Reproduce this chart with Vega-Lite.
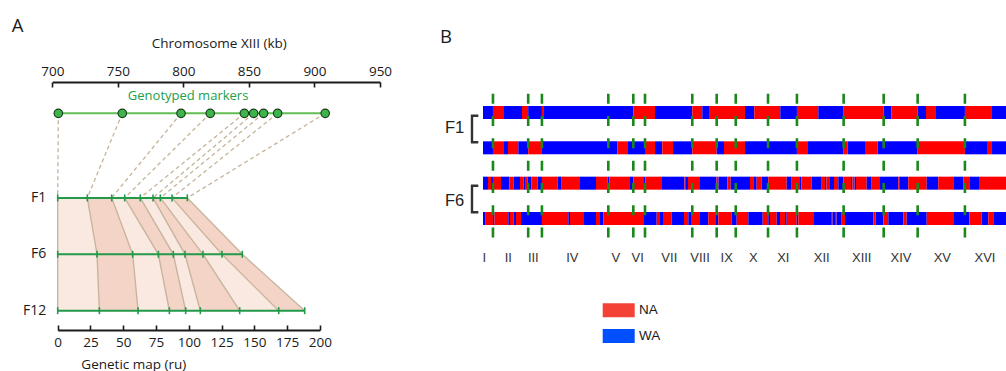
{
  "$schema": "https://vega.github.io/schema/vega-lite/v6.json",
  "width": 1006,
  "height": 371,
  "autosize": {"type": "none"},
  "padding": 0,
  "background": "white",
  "config": {"view": {"stroke": null}, "font": "Open Sans", "axis": {"labelFont": "Open Sans", "titleFont": "Open Sans"}},
  "datasets": {
    "markers": [
      {"kb": 704.6, "f1kb": 704.1}, {"kb": 753.4, "f1kb": 726.7}, {"kb": 798.2, "f1kb": 745.3},
      {"kb": 820.5, "f1kb": 755.2}, {"kb": 846.5, "f1kb": 767.1}, {"kb": 853.6, "f1kb": 776.8},
      {"kb": 861.2, "f1kb": 782.4}, {"kb": 871.9, "f1kb": 791.3}, {"kb": 908.2, "f1kb": 803.0}
    ],
    "fmap": [
      {"gen": "F1", "level": 1.5, "idx": 0, "ru": 0}, {"gen": "F1", "level": 1.5, "idx": 1, "ru": 22.6},
      {"gen": "F1", "level": 1.5, "idx": 2, "ru": 41.2}, {"gen": "F1", "level": 1.5, "idx": 3, "ru": 51.1},
      {"gen": "F1", "level": 1.5, "idx": 4, "ru": 63.0}, {"gen": "F1", "level": 1.5, "idx": 5, "ru": 72.7},
      {"gen": "F1", "level": 1.5, "idx": 6, "ru": 78.3}, {"gen": "F1", "level": 1.5, "idx": 7, "ru": 87.2},
      {"gen": "F1", "level": 1.5, "idx": 8, "ru": 98.9},
      {"gen": "F6", "level": 2.5, "idx": 0, "ru": 0}, {"gen": "F6", "level": 2.5, "idx": 1, "ru": 30.0},
      {"gen": "F6", "level": 2.5, "idx": 2, "ru": 57.2}, {"gen": "F6", "level": 2.5, "idx": 3, "ru": 76.8},
      {"gen": "F6", "level": 2.5, "idx": 4, "ru": 88.2}, {"gen": "F6", "level": 2.5, "idx": 5, "ru": 97.1},
      {"gen": "F6", "level": 2.5, "idx": 6, "ru": 110.8}, {"gen": "F6", "level": 2.5, "idx": 7, "ru": 125.3},
      {"gen": "F6", "level": 2.5, "idx": 8, "ru": 140.8},
      {"gen": "F12", "level": 3.5, "idx": 0, "ru": 0}, {"gen": "F12", "level": 3.5, "idx": 1, "ru": 31.8},
      {"gen": "F12", "level": 3.5, "idx": 2, "ru": 61.3}, {"gen": "F12", "level": 3.5, "idx": 3, "ru": 85.2},
      {"gen": "F12", "level": 3.5, "idx": 4, "ru": 97.6}, {"gen": "F12", "level": 3.5, "idx": 5, "ru": 108.8},
      {"gen": "F12", "level": 3.5, "idx": 6, "ru": 138.8}, {"gen": "F12", "level": 3.5, "idx": 7, "ru": 168.6},
      {"gen": "F12", "level": 3.5, "idx": 8, "ru": 188.4}
    ],
    "bands": [
      {"band": 0, "shade": "light", "level": 1.5, "lo": 0, "hi": 22.6}, {"band": 0, "shade": "light", "level": 2.5, "lo": 0, "hi": 30.0}, {"band": 0, "shade": "light", "level": 3.5, "lo": 0, "hi": 31.8},
      {"band": 1, "shade": "dark", "level": 1.5, "lo": 22.6, "hi": 41.2}, {"band": 1, "shade": "dark", "level": 2.5, "lo": 30.0, "hi": 57.2}, {"band": 1, "shade": "dark", "level": 3.5, "lo": 31.8, "hi": 61.3},
      {"band": 2, "shade": "light", "level": 1.5, "lo": 41.2, "hi": 51.1}, {"band": 2, "shade": "light", "level": 2.5, "lo": 57.2, "hi": 76.8}, {"band": 2, "shade": "light", "level": 3.5, "lo": 61.3, "hi": 85.2},
      {"band": 3, "shade": "dark", "level": 1.5, "lo": 51.1, "hi": 63.0}, {"band": 3, "shade": "dark", "level": 2.5, "lo": 76.8, "hi": 88.2}, {"band": 3, "shade": "dark", "level": 3.5, "lo": 85.2, "hi": 97.6},
      {"band": 4, "shade": "light", "level": 1.5, "lo": 63.0, "hi": 72.7}, {"band": 4, "shade": "light", "level": 2.5, "lo": 88.2, "hi": 97.1}, {"band": 4, "shade": "light", "level": 3.5, "lo": 97.6, "hi": 108.8},
      {"band": 5, "shade": "dark", "level": 1.5, "lo": 72.7, "hi": 78.3}, {"band": 5, "shade": "dark", "level": 2.5, "lo": 97.1, "hi": 110.8}, {"band": 5, "shade": "dark", "level": 3.5, "lo": 108.8, "hi": 138.8},
      {"band": 6, "shade": "light", "level": 1.5, "lo": 78.3, "hi": 87.2}, {"band": 6, "shade": "light", "level": 2.5, "lo": 110.8, "hi": 125.3}, {"band": 6, "shade": "light", "level": 3.5, "lo": 138.8, "hi": 168.6},
      {"band": 7, "shade": "dark", "level": 1.5, "lo": 87.2, "hi": 98.9}, {"band": 7, "shade": "dark", "level": 2.5, "lo": 125.3, "hi": 140.8}, {"band": 7, "shade": "dark", "level": 3.5, "lo": 168.6, "hi": 188.4}
    ],
    "chroms": [
      {"name": "I", "end": 230, "mid": 30}, {"name": "II", "end": 1043, "mid": 584}, {"name": "III", "end": 1360, "mid": 1161},
      {"name": "IV", "end": 2892, "mid": 2061}, {"name": "V", "end": 3469, "mid": 3063}, {"name": "VI", "end": 3739, "mid": 3570},
      {"name": "VII", "end": 4830, "mid": 4300}, {"name": "VIII", "end": 5393, "mid": 5008}, {"name": "IX", "end": 5833, "mid": 5624},
      {"name": "X", "end": 6578, "mid": 6238}, {"name": "XI", "end": 7245, "mid": 6930}, {"name": "XII", "end": 8323, "mid": 7817},
      {"name": "XIII", "end": 9247, "mid": 8740}, {"name": "XIV", "end": 10031, "mid": 9647}, {"name": "XV", "end": 11122, "mid": 10600},
      {"name": "XVI", "end": 12070, "mid": 11585}
    ],
    "haps": [
      {"row": 1, "start": 0, "end": 230, "hap": "WA"}, {"row": 1, "start": 230, "end": 468, "hap": "NA"}, {"row": 1, "start": 468, "end": 900, "hap": "WA"},
      {"row": 1, "start": 900, "end": 1043, "hap": "NA"}, {"row": 1, "start": 1043, "end": 1360, "hap": "WA"}, {"row": 1, "start": 1360, "end": 1408, "hap": "NA"},
      {"row": 1, "start": 1408, "end": 3469, "hap": "WA"}, {"row": 1, "start": 3469, "end": 3969, "hap": "NA"}, {"row": 1, "start": 3969, "end": 4830, "hap": "WA"},
      {"row": 1, "start": 4830, "end": 5061, "hap": "NA"}, {"row": 1, "start": 5061, "end": 5216, "hap": "WA"}, {"row": 1, "start": 5216, "end": 6046, "hap": "NA"},
      {"row": 1, "start": 6046, "end": 6261, "hap": "WA"}, {"row": 1, "start": 6261, "end": 6861, "hap": "NA"}, {"row": 1, "start": 6861, "end": 7245, "hap": "WA"},
      {"row": 1, "start": 7245, "end": 7738, "hap": "NA"}, {"row": 1, "start": 7738, "end": 8323, "hap": "WA"}, {"row": 1, "start": 8323, "end": 9247, "hap": "NA"},
      {"row": 1, "start": 9247, "end": 9423, "hap": "WA"}, {"row": 1, "start": 9423, "end": 10031, "hap": "NA"}, {"row": 1, "start": 10031, "end": 10224, "hap": "WA"},
      {"row": 1, "start": 10224, "end": 10438, "hap": "NA"}, {"row": 1, "start": 10438, "end": 11122, "hap": "WA"}, {"row": 1, "start": 11122, "end": 11731, "hap": "NA"},
      {"row": 1, "start": 11731, "end": 12070, "hap": "WA"},

      {"row": 2, "start": 0, "end": 230, "hap": "WA"}, {"row": 2, "start": 230, "end": 468, "hap": "NA"}, {"row": 2, "start": 468, "end": 577, "hap": "WA"},
      {"row": 2, "start": 577, "end": 815, "hap": "NA"}, {"row": 2, "start": 815, "end": 1043, "hap": "WA"}, {"row": 2, "start": 1043, "end": 1360, "hap": "NA"},
      {"row": 2, "start": 1360, "end": 3099, "hap": "WA"}, {"row": 2, "start": 3099, "end": 3330, "hap": "NA"}, {"row": 2, "start": 3330, "end": 3739, "hap": "WA"},
      {"row": 2, "start": 3739, "end": 3969, "hap": "NA"}, {"row": 2, "start": 3969, "end": 4138, "hap": "WA"}, {"row": 2, "start": 4138, "end": 4385, "hap": "NA"},
      {"row": 2, "start": 4385, "end": 4830, "hap": "WA"}, {"row": 2, "start": 4830, "end": 5393, "hap": "NA"}, {"row": 2, "start": 5393, "end": 5562, "hap": "WA"},
      {"row": 2, "start": 5562, "end": 6046, "hap": "NA"}, {"row": 2, "start": 6046, "end": 7245, "hap": "WA"}, {"row": 2, "start": 7245, "end": 7484, "hap": "NA"},
      {"row": 2, "start": 7484, "end": 8323, "hap": "WA"}, {"row": 2, "start": 8323, "end": 8417, "hap": "NA"}, {"row": 2, "start": 8417, "end": 8816, "hap": "WA"},
      {"row": 2, "start": 8816, "end": 9109, "hap": "NA"}, {"row": 2, "start": 9109, "end": 10031, "hap": "WA"}, {"row": 2, "start": 10031, "end": 11122, "hap": "NA"},
      {"row": 2, "start": 11122, "end": 11631, "hap": "WA"}, {"row": 2, "start": 11631, "end": 11731, "hap": "NA"}, {"row": 2, "start": 11731, "end": 12070, "hap": "WA"},

      {"row": 3, "start": 0, "end": 115, "hap": "WA"}, {"row": 3, "start": 115, "end": 185, "hap": "NA"}, {"row": 3, "start": 185, "end": 230, "hap": "WA"},
      {"row": 3, "start": 230, "end": 415, "hap": "NA"}, {"row": 3, "start": 415, "end": 612, "hap": "WA"}, {"row": 3, "start": 612, "end": 704, "hap": "NA"},
      {"row": 3, "start": 704, "end": 854, "hap": "WA"}, {"row": 3, "start": 854, "end": 935, "hap": "NA"}, {"row": 3, "start": 935, "end": 969, "hap": "WA"},
      {"row": 3, "start": 969, "end": 1027, "hap": "NA"}, {"row": 3, "start": 1027, "end": 1119, "hap": "WA"}, {"row": 3, "start": 1119, "end": 1258, "hap": "NA"},
      {"row": 3, "start": 1258, "end": 1360, "hap": "WA"}, {"row": 3, "start": 1360, "end": 1719, "hap": "NA"}, {"row": 3, "start": 1719, "end": 1816, "hap": "WA"},
      {"row": 3, "start": 1816, "end": 2239, "hap": "NA"}, {"row": 3, "start": 2239, "end": 2608, "hap": "WA"}, {"row": 3, "start": 2608, "end": 2878, "hap": "NA"},
      {"row": 3, "start": 2878, "end": 2915, "hap": "WA"}, {"row": 3, "start": 2915, "end": 3376, "hap": "NA"}, {"row": 3, "start": 3376, "end": 3469, "hap": "WA"},
      {"row": 3, "start": 3469, "end": 3716, "hap": "NA"}, {"row": 3, "start": 3716, "end": 3750, "hap": "WA"}, {"row": 3, "start": 3750, "end": 4131, "hap": "NA"},
      {"row": 3, "start": 4131, "end": 4650, "hap": "WA"}, {"row": 3, "start": 4650, "end": 4685, "hap": "NA"}, {"row": 3, "start": 4685, "end": 4731, "hap": "WA"},
      {"row": 3, "start": 4731, "end": 5008, "hap": "NA"}, {"row": 3, "start": 5008, "end": 5389, "hap": "WA"}, {"row": 3, "start": 5389, "end": 5435, "hap": "NA"},
      {"row": 3, "start": 5435, "end": 5638, "hap": "WA"}, {"row": 3, "start": 5638, "end": 5716, "hap": "NA"}, {"row": 3, "start": 5716, "end": 6162, "hap": "WA"},
      {"row": 3, "start": 6162, "end": 6238, "hap": "NA"}, {"row": 3, "start": 6238, "end": 6316, "hap": "WA"}, {"row": 3, "start": 6316, "end": 6432, "hap": "NA"},
      {"row": 3, "start": 6432, "end": 6584, "hap": "WA"}, {"row": 3, "start": 6584, "end": 7009, "hap": "NA"}, {"row": 3, "start": 7009, "end": 7124, "hap": "WA"},
      {"row": 3, "start": 7124, "end": 7316, "hap": "NA"}, {"row": 3, "start": 7316, "end": 7350, "hap": "WA"}, {"row": 3, "start": 7350, "end": 7586, "hap": "NA"},
      {"row": 3, "start": 7586, "end": 7817, "hap": "WA"}, {"row": 3, "start": 7817, "end": 7893, "hap": "NA"}, {"row": 3, "start": 7893, "end": 7927, "hap": "WA"},
      {"row": 3, "start": 7927, "end": 8008, "hap": "NA"}, {"row": 3, "start": 8008, "end": 8100, "hap": "WA"}, {"row": 3, "start": 8100, "end": 8200, "hap": "NA"},
      {"row": 3, "start": 8200, "end": 8315, "hap": "WA"}, {"row": 3, "start": 8315, "end": 8493, "hap": "NA"}, {"row": 3, "start": 8493, "end": 8527, "hap": "WA"},
      {"row": 3, "start": 8527, "end": 8574, "hap": "NA"}, {"row": 3, "start": 8574, "end": 8608, "hap": "WA"}, {"row": 3, "start": 8608, "end": 8855, "hap": "NA"},
      {"row": 3, "start": 8855, "end": 8970, "hap": "WA"}, {"row": 3, "start": 8970, "end": 9162, "hap": "NA"}, {"row": 3, "start": 9162, "end": 9584, "hap": "WA"},
      {"row": 3, "start": 9584, "end": 9624, "hap": "NA"}, {"row": 3, "start": 9624, "end": 9815, "hap": "WA"}, {"row": 3, "start": 9815, "end": 10240, "hap": "NA"},
      {"row": 3, "start": 10240, "end": 10507, "hap": "WA"}, {"row": 3, "start": 10507, "end": 10854, "hap": "NA"}, {"row": 3, "start": 10854, "end": 11084, "hap": "WA"},
      {"row": 3, "start": 11084, "end": 11223, "hap": "NA"}, {"row": 3, "start": 11223, "end": 11447, "hap": "WA"}, {"row": 3, "start": 11447, "end": 12070, "hap": "NA"},

      {"row": 4, "start": 0, "end": 62, "hap": "WA"}, {"row": 4, "start": 62, "end": 230, "hap": "NA"}, {"row": 4, "start": 230, "end": 265, "hap": "WA"},
      {"row": 4, "start": 265, "end": 584, "hap": "NA"}, {"row": 4, "start": 584, "end": 623, "hap": "WA"}, {"row": 4, "start": 623, "end": 704, "hap": "NA"},
      {"row": 4, "start": 704, "end": 762, "hap": "WA"}, {"row": 4, "start": 762, "end": 877, "hap": "NA"}, {"row": 4, "start": 877, "end": 1360, "hap": "WA"},
      {"row": 4, "start": 1360, "end": 1969, "hap": "NA"}, {"row": 4, "start": 1969, "end": 2008, "hap": "WA"}, {"row": 4, "start": 2008, "end": 2331, "hap": "NA"},
      {"row": 4, "start": 2331, "end": 2608, "hap": "WA"}, {"row": 4, "start": 2608, "end": 2700, "hap": "NA"}, {"row": 4, "start": 2700, "end": 2776, "hap": "WA"},
      {"row": 4, "start": 2776, "end": 3716, "hap": "NA"}, {"row": 4, "start": 3716, "end": 4009, "hap": "WA"}, {"row": 4, "start": 4009, "end": 4085, "hap": "NA"},
      {"row": 4, "start": 4085, "end": 4154, "hap": "WA"}, {"row": 4, "start": 4154, "end": 4355, "hap": "NA"}, {"row": 4, "start": 4355, "end": 4639, "hap": "WA"},
      {"row": 4, "start": 4639, "end": 4738, "hap": "NA"}, {"row": 4, "start": 4738, "end": 4800, "hap": "WA"}, {"row": 4, "start": 4800, "end": 5008, "hap": "NA"},
      {"row": 4, "start": 5008, "end": 5200, "hap": "WA"}, {"row": 4, "start": 5200, "end": 5377, "hap": "NA"}, {"row": 4, "start": 5377, "end": 5430, "hap": "WA"},
      {"row": 4, "start": 5430, "end": 5740, "hap": "NA"}, {"row": 4, "start": 5740, "end": 5855, "hap": "WA"}, {"row": 4, "start": 5855, "end": 6123, "hap": "NA"},
      {"row": 4, "start": 6123, "end": 6455, "hap": "WA"}, {"row": 4, "start": 6455, "end": 6584, "hap": "NA"}, {"row": 4, "start": 6584, "end": 6623, "hap": "WA"},
      {"row": 4, "start": 6623, "end": 6778, "hap": "NA"}, {"row": 4, "start": 6778, "end": 6854, "hap": "WA"}, {"row": 4, "start": 6854, "end": 6970, "hap": "NA"},
      {"row": 4, "start": 6970, "end": 7009, "hap": "WA"}, {"row": 4, "start": 7009, "end": 7240, "hap": "NA"}, {"row": 4, "start": 7240, "end": 7277, "hap": "WA"},
      {"row": 4, "start": 7277, "end": 7639, "hap": "NA"}, {"row": 4, "start": 7639, "end": 8031, "hap": "WA"}, {"row": 4, "start": 8031, "end": 8066, "hap": "NA"},
      {"row": 4, "start": 8066, "end": 8123, "hap": "WA"}, {"row": 4, "start": 8123, "end": 8158, "hap": "NA"}, {"row": 4, "start": 8158, "end": 8278, "hap": "WA"},
      {"row": 4, "start": 8278, "end": 8354, "hap": "NA"}, {"row": 4, "start": 8354, "end": 9007, "hap": "WA"}, {"row": 4, "start": 9007, "end": 9063, "hap": "NA"},
      {"row": 4, "start": 9063, "end": 9238, "hap": "WA"}, {"row": 4, "start": 9238, "end": 9354, "hap": "NA"}, {"row": 4, "start": 9354, "end": 9700, "hap": "WA"},
      {"row": 4, "start": 9700, "end": 9778, "hap": "NA"}, {"row": 4, "start": 9778, "end": 10240, "hap": "WA"}, {"row": 4, "start": 10240, "end": 10870, "hap": "NA"},
      {"row": 4, "start": 10870, "end": 11223, "hap": "WA"}, {"row": 4, "start": 11223, "end": 11509, "hap": "NA"}, {"row": 4, "start": 11509, "end": 11661, "hap": "WA"},
      {"row": 4, "start": 11661, "end": 11777, "hap": "NA"}, {"row": 4, "start": 11777, "end": 12070, "hap": "WA"}
    ],
    "brackets": [
      {"gen": "F1", "ord": 1, "kb": -108, "row": 1.09}, {"gen": "F1", "ord": 2, "kb": -254, "row": 1.09},
      {"gen": "F1", "ord": 3, "kb": -254, "row": 1.84}, {"gen": "F1", "ord": 4, "kb": -108, "row": 1.84},
      {"gen": "F6", "ord": 1, "kb": -108, "row": 3.074}, {"gen": "F6", "ord": 2, "kb": -254, "row": 3.074},
      {"gen": "F6", "ord": 3, "kb": -254, "row": 3.824}, {"gen": "F6", "ord": 4, "kb": -108, "row": 3.824}
    ],
    "glabels": [{"gen": "F1", "row": 1.582}, {"gen": "F6", "row": 3.651}]
  },
  "layer": [
    {
      "layer": [
        {
          "data": {"name": "markers"},
          "mark": {"type": "rule", "color": "#c6b399", "strokeWidth": 1.3, "strokeDash": [4, 3]},
          "encoding": {
            "x": {"field": "kb", "type": "quantitative",
              "scale": {"domain": [700, 950], "range": [52.3, 380], "nice": false, "zero": false},
              "axis": {"orient": "top", "offset": -82, "values": [700, 750, 800, 850, 900, 950],
                "tickSize": -5, "tickWidth": 1.6, "tickColor": "#1a1a1a", "domainColor": "#1a1a1a", "domainWidth": 1.8,
                "labelPadding": 12, "labelBaseline": "alphabetic", "labelFontSize": 13.5, "labelColor": "#1a1a1a",
                "labelFlush": false, "labelOverlap": false, "grid": false,
                "title": "Chromosome XIII (kb)", "titleFontSize": 13.5, "titleFontWeight": "normal", "titleColor": "#1a1a1a",
                "titleX": 218.8, "titleY": -34.7, "titleBaseline": "alphabetic", "titleAlign": "center"}},
            "x2": {"field": "f1kb"},
            "y": {"datum": 0, "type": "quantitative", "scale": {"domain": [0, 3.5], "range": [113.3, 310.7], "nice": false, "zero": false}, "axis": null},
            "y2": {"datum": 1.5}
          }
        },
        {
          "data": {"name": "markers"},
          "mark": {"type": "rule", "color": "#62bd55", "strokeWidth": 2},
          "encoding": {
            "x": {"aggregate": "min", "field": "kb", "type": "quantitative", "scale": {"domain": [700, 950], "range": [52.3, 380], "nice": false, "zero": false}},
            "x2": {"aggregate": "max", "field": "kb"},
            "y": {"datum": 0, "type": "quantitative", "scale": {"domain": [0, 3.5], "range": [113.3, 310.7], "nice": false, "zero": false}, "axis": null}
          }
        },
        {
          "data": {"name": "markers"},
          "mark": {"type": "circle", "size": 72, "fill": "#3db54a", "stroke": "#1c3f1e", "strokeWidth": 1.2, "opacity": 1},
          "encoding": {
            "x": {"field": "kb", "type": "quantitative", "scale": {"domain": [700, 950], "range": [52.3, 380], "nice": false, "zero": false}},
            "y": {"datum": 0, "type": "quantitative", "scale": {"domain": [0, 3.5], "range": [113.3, 310.7], "nice": false, "zero": false}, "axis": null}
          }
        },
        {
          "data": {"values": [{}]},
          "mark": {"type": "text", "text": "Genotyped markers", "fontSize": 13, "color": "#22a04b", "align": "center", "baseline": "alphabetic"},
          "encoding": {
            "x": {"datum": 803.6, "type": "quantitative", "scale": {"domain": [700, 950], "range": [52.3, 380], "nice": false, "zero": false}},
            "y": {"datum": -0.232, "type": "quantitative", "scale": {"domain": [0, 3.5], "range": [113.3, 310.7], "nice": false, "zero": false}, "axis": null}
          }
        },
        {
          "data": {"values": [{}]},
          "mark": {"type": "text", "text": "A", "fontSize": 18.5, "color": "#1a1a1a", "align": "left", "baseline": "alphabetic"},
          "encoding": {
            "x": {"datum": 669, "type": "quantitative", "scale": {"domain": [700, 950], "range": [52.3, 380], "nice": false, "zero": false}},
            "y": {"datum": -1.447, "type": "quantitative", "scale": {"domain": [0, 3.5], "range": [113.3, 310.7], "nice": false, "zero": false}, "axis": null}
          }
        }
      ]
    },
    {
      "layer": [
        {
          "data": {"name": "bands"},
          "mark": {"type": "area", "orient": "horizontal", "opacity": 1},
          "encoding": {
            "x": {"field": "lo", "type": "quantitative", "stack": null,
              "scale": {"domain": [0, 200], "range": [57.7, 319.9], "nice": false, "zero": false},
              "axis": {"orient": "bottom", "offset": -41, "values": [0, 25, 50, 75, 100, 125, 150, 175, 200],
                "tickSize": -5, "tickWidth": 1.6, "tickColor": "#1a1a1a", "domainColor": "#1a1a1a", "domainWidth": 1.8,
                "labelPadding": 21.7, "labelBaseline": "alphabetic", "labelFontSize": 13.5, "labelColor": "#1a1a1a",
                "labelFlush": false, "labelOverlap": false, "grid": false,
                "title": "Genetic map (ru)", "titleFontSize": 13.5, "titleFontWeight": "normal", "titleColor": "#1a1a1a",
                "titleX": 133.3, "titleY": 38, "titleBaseline": "alphabetic", "titleAlign": "center"}},
            "x2": {"field": "hi"},
            "y": {"field": "level", "type": "quantitative", "scale": {"domain": [0, 3.5], "range": [113.3, 310.7], "nice": false, "zero": false}, "axis": null},
            "color": {"field": "shade", "type": "nominal", "scale": {"domain": ["light", "dark"], "range": ["#fae9e0", "#f4d4c7"]}, "legend": null},
            "detail": {"field": "band", "type": "nominal"}
          }
        },
        {
          "data": {"name": "fmap"},
          "mark": {"type": "line", "color": "#c9b59d", "strokeWidth": 1.4},
          "encoding": {
            "x": {"field": "ru", "type": "quantitative", "scale": {"domain": [0, 200], "range": [57.7, 319.9], "nice": false, "zero": false}},
            "y": {"field": "level", "type": "quantitative", "scale": {"domain": [0, 3.5], "range": [113.3, 310.7], "nice": false, "zero": false}, "axis": null},
            "detail": {"field": "idx", "type": "nominal"},
            "order": {"field": "level", "type": "quantitative"}
          }
        },
        {
          "data": {"name": "fmap"},
          "mark": {"type": "rule", "color": "#23994a", "strokeWidth": 2},
          "encoding": {
            "x": {"aggregate": "min", "field": "ru", "type": "quantitative", "scale": {"domain": [0, 200], "range": [57.7, 319.9], "nice": false, "zero": false}},
            "x2": {"aggregate": "max", "field": "ru"},
            "y": {"field": "level", "type": "quantitative", "scale": {"domain": [0, 3.5], "range": [113.3, 310.7], "nice": false, "zero": false}, "axis": null}
          }
        },
        {
          "data": {"name": "fmap"},
          "mark": {"type": "tick", "orient": "vertical", "size": 7, "thickness": 1.6, "color": "#23994a", "opacity": 1},
          "encoding": {
            "x": {"field": "ru", "type": "quantitative", "scale": {"domain": [0, 200], "range": [57.7, 319.9], "nice": false, "zero": false}},
            "y": {"field": "level", "type": "quantitative", "scale": {"domain": [0, 3.5], "range": [113.3, 310.7], "nice": false, "zero": false}, "axis": null}
          }
        },
        {
          "data": {"name": "fmap"},
          "transform": [{"filter": "datum.idx == 0"}],
          "mark": {"type": "text", "fontSize": 14, "color": "#1a1a1a", "align": "right", "baseline": "middle"},
          "encoding": {
            "x": {"datum": -8.7, "type": "quantitative", "scale": {"domain": [0, 200], "range": [57.7, 319.9], "nice": false, "zero": false}},
            "y": {"field": "level", "type": "quantitative", "scale": {"domain": [0, 3.5], "range": [113.3, 310.7], "nice": false, "zero": false}, "axis": null},
            "text": {"field": "gen"}
          }
        }
      ]
    },
    {
      "layer": [
        {
          "data": {"name": "haps"},
          "mark": {"type": "bar", "orient": "horizontal", "size": 13},
          "encoding": {
            "x": {"field": "start", "type": "quantitative", "stack": null, "scale": {"domain": [0, 12070], "range": [483, 1006], "nice": false, "zero": false}, "axis": null},
            "x2": {"field": "end"},
            "y": {"field": "row", "type": "quantitative", "scale": {"domain": [1, 4], "range": [107.5, 223.5], "nice": false, "zero": false}, "axis": null},
            "color": {"field": "hap", "type": "nominal", "scale": {"domain": ["NA", "WA"], "range": ["#ff0000", "#0000ff"]}, "legend": null}
          }
        },
        {
          "data": {"name": "chroms"},
          "transform": [{"filter": "datum.end < 12070"}],
          "mark": {"type": "rule", "color": "#1a881a", "strokeWidth": 2.6, "strokeDash": [10, 12.3]},
          "encoding": {
            "x": {"field": "end", "type": "quantitative", "scale": {"domain": [0, 12070], "range": [483, 1006], "nice": false, "zero": false}},
            "y": {"datum": 0.47, "type": "quantitative", "scale": {"domain": [1, 4], "range": [107.5, 223.5], "nice": false, "zero": false}, "axis": null},
            "y2": {"datum": 4.814}
          }
        },
        {
          "data": {"name": "chroms"},
          "mark": {"type": "text", "font": "Liberation Sans", "fontSize": 13, "color": "#333333", "align": "center", "baseline": "alphabetic"},
          "encoding": {
            "x": {"field": "mid", "type": "quantitative", "scale": {"domain": [0, 12070], "range": [483, 1006], "nice": false, "zero": false}},
            "y": {"datum": 5.23, "type": "quantitative", "scale": {"domain": [1, 4], "range": [107.5, 223.5], "nice": false, "zero": false}, "axis": null},
            "text": {"field": "name"}
          }
        },
        {
          "data": {"name": "glabels"},
          "mark": {"type": "text", "font": "Liberation Sans", "fontSize": 16.5, "color": "#222222", "align": "left", "baseline": "alphabetic"},
          "encoding": {
            "x": {"datum": -877, "type": "quantitative", "scale": {"domain": [0, 12070], "range": [483, 1006], "nice": false, "zero": false}},
            "y": {"field": "row", "type": "quantitative", "scale": {"domain": [1, 4], "range": [107.5, 223.5], "nice": false, "zero": false}, "axis": null},
            "text": {"field": "gen"}
          }
        },
        {
          "data": {"name": "brackets"},
          "mark": {"type": "line", "color": "#333333", "strokeWidth": 2.4},
          "encoding": {
            "x": {"field": "kb", "type": "quantitative", "scale": {"domain": [0, 12070], "range": [483, 1006], "nice": false, "zero": false}},
            "y": {"field": "row", "type": "quantitative", "scale": {"domain": [1, 4], "range": [107.5, 223.5], "nice": false, "zero": false}, "axis": null},
            "detail": {"field": "gen", "type": "nominal"},
            "order": {"field": "ord", "type": "quantitative"}
          }
        },
        {
          "data": {"values": [{}]},
          "mark": {"type": "text", "text": "B", "fontSize": 18.5, "color": "#1a1a1a", "align": "left", "baseline": "alphabetic"},
          "encoding": {
            "x": {"datum": -992, "type": "quantitative", "scale": {"domain": [0, 12070], "range": [483, 1006], "nice": false, "zero": false}},
            "y": {"datum": -0.96, "type": "quantitative", "scale": {"domain": [1, 4], "range": [107.5, 223.5], "nice": false, "zero": false}, "axis": null}
          }
        }
      ]
    },
    {
      "data": {"values": [{"hap": "NA"}, {"hap": "WA"}]},
      "mark": {"type": "rect"},
      "encoding": {
        "x": {"datum": 0, "type": "quantitative", "scale": {"domain": [0, 1]}, "axis": null},
        "x2": {"datum": 0},
        "y": {"datum": 0, "type": "quantitative", "scale": {"domain": [0, 1]}, "axis": null},
        "y2": {"datum": 0},
        "color": {"field": "hap", "type": "nominal",
          "scale": {"domain": ["NA", "WA"], "range": ["#f44336", "#0050ff"]},
          "legend": {"title": null, "orient": "none", "legendX": 611.7, "legendY": 303.3,
            "symbolType": "M-2.2857,-1H2.2857V1H-2.2857Z", "symbolSize": 196, "symbolStrokeWidth": 0, "symbolOpacity": 1,
            "labelOffset": 13.3, "labelFont": "Liberation Sans", "labelFontSize": 13.5, "labelColor": "#1a1a1a",
            "rowPadding": 11.7, "padding": 0}}
      }
    }
  ],
  "resolve": {
    "scale": {"x": "independent", "y": "independent", "color": "independent"},
    "axis": {"x": "independent", "y": "independent"},
    "legend": {"color": "independent"}
  }
}
